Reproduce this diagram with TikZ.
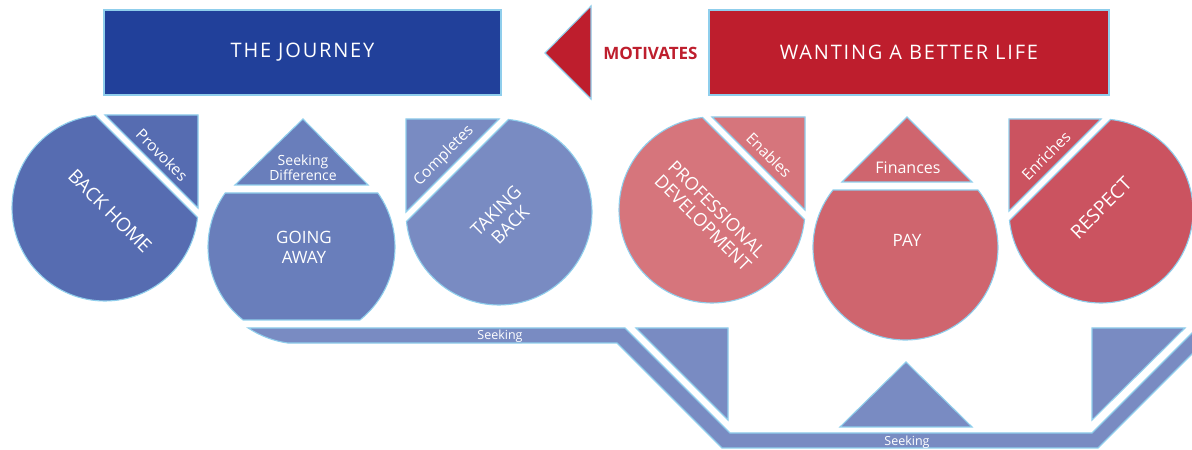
\documentclass[tikz,border=0pt]{standalone}
\usepackage{fontspec}
\setmainfont{Open Sans}
\newfontfamily\trackfont{Open Sans}[LetterSpace=9]
\definecolor{jblue}{RGB}{33,64,154}
\definecolor{wred}{RGB}{190,30,45}
\definecolor{edgeblue}{RGB}{143,206,236}
\definecolor{bA}{RGB}{86,108,177}
\definecolor{bB}{RGB}{105,126,187}
\definecolor{bC}{RGB}{121,139,194}
\definecolor{rA}{RGB}{214,117,124}
\definecolor{rB}{RGB}{207,101,110}
\definecolor{rC}{RGB}{203,83,96}
\tikzset{
  piece/.style={draw=edgeblue, line width=1.1pt, line join=miter},
  lab/.style={text=white, align=center, inner sep=0pt},
  titlebox/.style={draw=edgeblue, line width=1.1pt, text=white, inner sep=0pt,
    minimum width=397pt, minimum height=85pt, font=\trackfont\fontsize{20}{22}\selectfont}
}
\begin{document}
\begin{tikzpicture}[x=1pt,y=1pt]
\useasboundingbox (0,0) rectangle (1192,450);
\clip (0,0) rectangle (1192,450);
\fill[white] (0,0) rectangle (1192,450);

% ---- top row ----
\node[titlebox, fill=jblue] (journey) at (302.5,397.5) {THE JOURNEY};
\node[titlebox, fill=wred, minimum width=400pt] (better) at (909,397.5) {WANTING A BETTER LIFE};
\filldraw[piece, fill=wred] (545,397) -- (591,444) -- (591,351) -- cycle;
\node[inner sep=0pt, text=wred, font=\bfseries\fontsize{17}{19}\selectfont] (motiv) at (650.5,397) {MOTIVATES};

% ---- BACK HOME ----
\filldraw[piece, fill=bA] ([shift={(95.87:93pt)}]105,242) arc[start angle=95.87, end angle=354.13, radius=93pt] -- cycle;
\filldraw[piece, fill=bA] (105,335) -- (198,335) -- (198,242) -- cycle;
\node[lab, rotate=-45, font=\fontsize{19}{21}\selectfont] (backhome) at (110,239) {BACK HOME};
\node[lab, rotate=-45, font=\fontsize{15.5}{17}\selectfont] (provokes) at (162,295) {Provokes};

% ---- GOING AWAY ----
\filldraw[piece, fill=bB] ([shift={(144.7:93.5pt)}]301.5,203) arc[start angle=144.7, end angle=231.3, radius=93.5pt]
   -- ([shift={(308.7:93.5pt)}]301.5,203) arc[start angle=-51.3, end angle=35.3, radius=93.5pt] -- cycle;
\filldraw[piece, fill=bB] (303,331) -- (368,265) -- (235,265) -- cycle;
\node[lab, font=\fontsize{17}{20}\selectfont] (going) at (304,203) {GOING\\AWAY};
\node[lab, font=\fontsize{14}{15}\selectfont] (seekdiff) at (303,282) {Seeking\\Difference};

% ---- TAKING BACK ----
\filldraw[piece, fill=bC] ([shift={(185.87:93pt)}]499,238) arc[start angle=185.87, end angle=444.13, radius=93pt] -- cycle;
\filldraw[piece, fill=bC] (406,331) -- (499,331) -- (406,238) -- cycle;
\node[lab, rotate=45, font=\fontsize{18}{20}\selectfont] (taking) at (503,232) {TAKING\\BACK};
\node[lab, rotate=45, font=\fontsize{15.5}{17}\selectfont] (completes) at (444,294) {Completes};

% ---- PROFESSIONAL DEVELOPMENT ----
\filldraw[piece, fill=rA] ([shift={(95.87:93pt)}]712,240) arc[start angle=95.87, end angle=354.13, radius=93pt] -- cycle;
\filldraw[piece, fill=rA] (712,333) -- (805,333) -- (805,240) -- cycle;
\node[lab, rotate=-45, font=\fontsize{18}{19.5}\selectfont] (profdev) at (710,234) {PROFESSIONAL\\DEVELOPMENT};
\node[lab, rotate=-45, font=\fontsize{15.5}{17}\selectfont] (enables) at (769,295) {Enables};

% ---- PAY ----
\filldraw[piece, fill=rB] ([shift={(141.6:92.5pt)}]905.5,202.5) arc[start angle=141.6, end angle=398.4, radius=92.5pt] -- cycle;
\filldraw[piece, fill=rB] (907,333) -- (972,268) -- (842,268) -- cycle;
\node[lab, font=\fontsize{17}{19}\selectfont] (pay) at (907,210) {PAY};
\node[lab, font=\fontsize{16}{18}\selectfont] (finances) at (908,282) {Finances};

% ---- RESPECT ----
\filldraw[piece, fill=rC] ([shift={(185.93:92pt)}]1101,239) arc[start angle=185.93, end angle=444.07, radius=92pt] -- cycle;
\filldraw[piece, fill=rC] (1009,331) -- (1101,331) -- (1009,239) -- cycle;
\node[lab, rotate=45, font=\fontsize{19}{21}\selectfont] (respect) at (1101,242) {RESPECT};
\node[lab, rotate=45, font=\fontsize{15.5}{17}\selectfont] (enriches) at (1046,294) {Enriches};

% ---- bottom band ----
\filldraw[piece, fill=bC] ([shift={(236.6:97pt)}]301.5,203) -- (625,122) -- (730,17) -- (1092,17) -- (1250,175)
   -- (1250,154) -- (1098,2) -- (722,2) -- (617,107) -- ([shift={(261.8:97pt)}]301.5,203)
   arc[start angle=261.8, end angle=236.6, radius=97pt] -- cycle;
\filldraw[piece, fill=bC] (636,122) -- (728,122) -- (728,30) -- cycle;
\filldraw[piece, fill=bC] (906,88) -- (972,23) -- (840,23) -- cycle;
\filldraw[piece, fill=bC] (1092,122) -- (1185,122) -- (1092,30) -- cycle;
\node[lab, font=\fontsize{12.5}{14}\selectfont] (seek1) at (500,114) {Seeking};
\node[lab, font=\fontsize{12.5}{14}\selectfont] (seek2) at (907,8) {Seeking};
\end{tikzpicture}
\end{document}
